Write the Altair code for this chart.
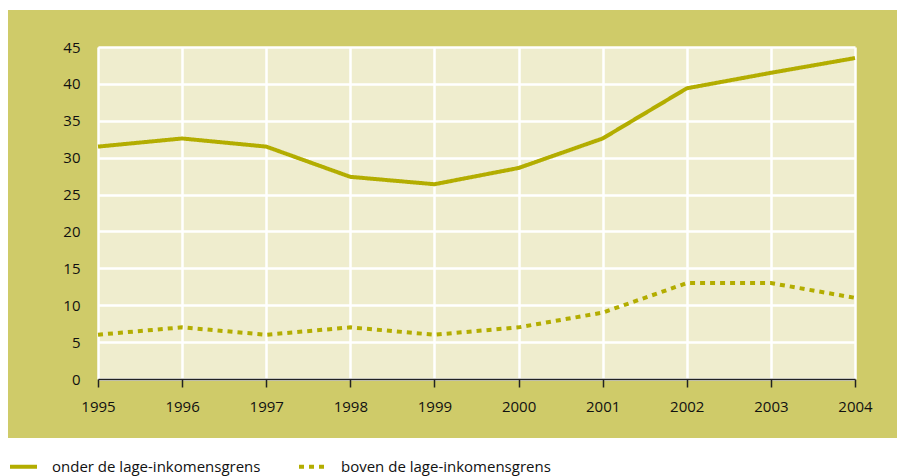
import altair as alt
import pandas as pd

years = [1995, 1996, 1997, 1998, 1999, 2000, 2001, 2002, 2003, 2004]
onder = [31.5, 32.6, 31.5, 27.4, 26.4, 28.6, 32.6, 39.4, 41.5, 43.5]
boven = [6, 7, 6, 7, 6, 7, 9, 13, 13, 11]
series_names = ["onder de lage-inkomensgrens", "boven de lage-inkomensgrens"]
y_ticks = [0, 5, 10, 15, 20, 25, 30, 35, 40, 45]

rows = []
for yr, v in zip(years, onder):
    rows.append({"jaar": yr, "waarde": v, "reeks": series_names[0]})
for yr, v in zip(years, boven):
    rows.append({"jaar": yr, "waarde": v, "reeks": series_names[1]})
df = pd.DataFrame(rows)

W, H = 757, 332
OLIVE = "#cfcb69"
PLOTBG = "#efedce"
LINE = "#b3ad00"
FONT = "Open Sans"

top_strip = alt.Chart(pd.DataFrame({"a": [0]})).mark_rect(color="white").encode(
    x=alt.value(-90), x2=alt.value(W + 60), y=alt.value(-45), y2=alt.value(-37)
)
bottom_strip = alt.Chart(pd.DataFrame({"a": [0]})).mark_rect(color="white").encode(
    x=alt.value(-90), x2=alt.value(W + 60), y=alt.value(H + 59), y2=alt.value(H + 140)
)

lines = alt.Chart(df).mark_line(strokeWidth=4, color=LINE).encode(
    x=alt.X("jaar:Q",
            scale=alt.Scale(domain=[1995, 2004], nice=False, zero=False),
            axis=alt.Axis(values=years, format="d", title=None, grid=True,
                          gridColor="white", gridWidth=2.5, gridOpacity=1,
                          domain=True, domainColor="#222", domainWidth=1.5,
                          ticks=True, tickColor="#222", tickWidth=1.5, tickSize=8,
                          labelFont=FONT, labelFontSize=15, labelColor="#111",
                          labelPadding=12, labelFlush=False)),
    y=alt.Y("waarde:Q",
            scale=alt.Scale(domain=[0, 45], nice=False),
            axis=alt.Axis(values=y_ticks, title=None, grid=True,
                          gridColor="white", gridWidth=2.5, gridOpacity=1,
                          domain=False, ticks=False,
                          labelFont=FONT, labelFontSize=15, labelColor="#111",
                          labelPadding=18)),
    strokeDash=alt.StrokeDash("reeks:N",
        scale=alt.Scale(domain=series_names, range=[[1, 0], [5, 5]]),
        legend=alt.Legend(title=None, orient="none", legendX=-90, legendY=H + 72,
                          direction="horizontal", columns=2, symbolType="stroke",
                          symbolSize=729, symbolStrokeWidth=4, symbolStrokeColor=LINE,
                          labelFont=FONT, labelFontSize=15, labelColor="#111",
                          labelLimit=400, labelOffset=13, columnPadding=30)),
)

chart = alt.layer(top_strip, bottom_strip, lines).properties(
    width=W, height=H,
    autosize=alt.AutoSizeParams(type="none"),
    padding={"left": 90, "top": 39, "right": 42, "bottom": 98},
    background=OLIVE,
).configure_view(stroke=None, fill=PLOTBG)

chart.save("out.html", embed_options={"renderer": "svg", "actions": False})
